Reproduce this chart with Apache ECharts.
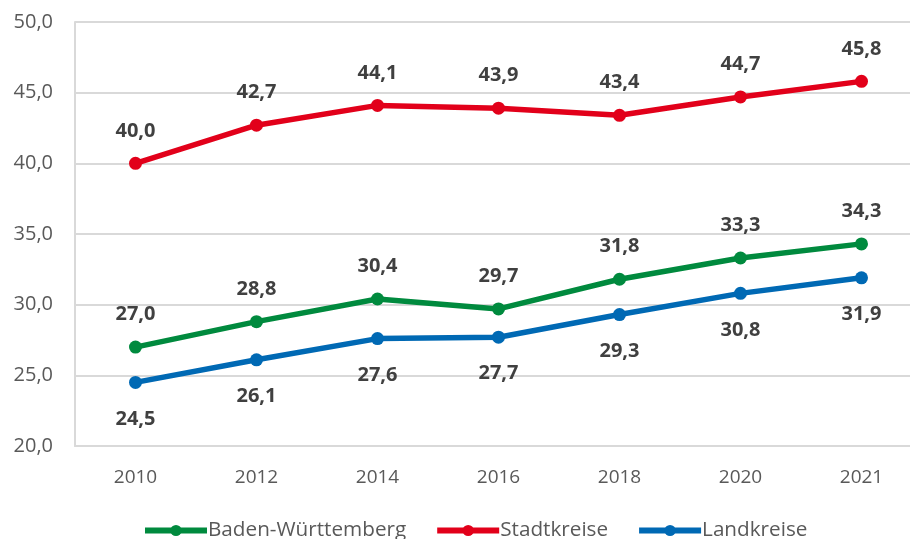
<!DOCTYPE html>
<html>
<head>
<meta charset="utf-8">
<script src="https://cdn.jsdelivr.net/npm/echarts@6/dist/echarts.min.js"></script>
<style>
  html, body { margin: 0; padding: 0; background: #fff; }
  #chart { width: 910px; height: 539px; }
</style>
</head>
<body>
<div id="chart"></div>
<script>
// Years on the x axis
const years = ['2010', '2012', '2014', '2016', '2018', '2020', '2021'];

// Values per region
const badenWuerttemberg = [27.0, 28.8, 30.4, 29.7, 31.8, 33.3, 34.3];
const stadtkreise = [40.0, 42.7, 44.1, 43.9, 43.4, 44.7, 45.8];
const landkreise = [24.5, 26.1, 27.6, 27.7, 29.3, 30.8, 31.9];

// Y axis range
const yMin = 20;
const yMax = 50;
const yStep = 5;

const fmt = v => v.toFixed(1).replace('.', ',');
const FONT = '"Open Sans", sans-serif';

function lineSeries(name, data, color, labelPos) {
  return {
    name: name,
    type: 'line',
    data: data,
    symbol: 'circle',
    symbolSize: 13,
    lineStyle: { color: color, width: 5.5 },
    itemStyle: { color: color },
    label: {
      show: true,
      position: labelPos,
      distance: labelPos === 'top' ? 16 : 20,
      formatter: p => fmt(p.value),
      fontFamily: FONT,
      fontWeight: 'bold',
      fontSize: 20,
      color: '#404040'
    }
  };
}

const chart = echarts.init(document.getElementById('chart'));
chart.setOption({
  animation: false,
  backgroundColor: '#fff',
  grid: { left: 75, top: 22, right: -12, bottom: 93, outerBoundsMode: 'none' },
  legend: {
    top: 515,
    left: 137,
    itemWidth: 62,
    itemHeight: 14,
    itemGap: 28,
    lineStyle: { width: 6 },
    textStyle: { fontFamily: FONT, fontSize: 20.7, color: '#595959', padding: [0, 0, 0, -4] },
    data: ['Baden-Württemberg', 'Stadtkreise', 'Landkreise']
  },
  xAxis: {
    type: 'category',
    data: years,
    boundaryGap: true,
    axisLine: { show: true, lineStyle: { color: '#d9d9d9', width: 2 } },
    axisTick: { show: false },
    axisLabel: { fontFamily: FONT, fontSize: 19, color: '#595959', margin: 22 }
  },
  yAxis: {
    type: 'value',
    min: yMin,
    max: yMax,
    interval: yStep,
    axisLine: { show: true, lineStyle: { color: '#d9d9d9', width: 2 } },
    axisTick: { show: false },
    splitLine: { lineStyle: { color: '#d9d9d9', width: 2 } },
    axisLabel: { fontFamily: FONT, fontSize: 20, color: '#595959', margin: 22, formatter: v => fmt(v) }
  },
  series: [
    lineSeries('Baden-Württemberg', badenWuerttemberg, '#008a3e', 'top'),
    lineSeries('Stadtkreise', stadtkreise, '#e2001a', 'top'),
    lineSeries('Landkreise', landkreise, '#0069b4', 'bottom')
  ]
});
</script>
</body>
</html>
